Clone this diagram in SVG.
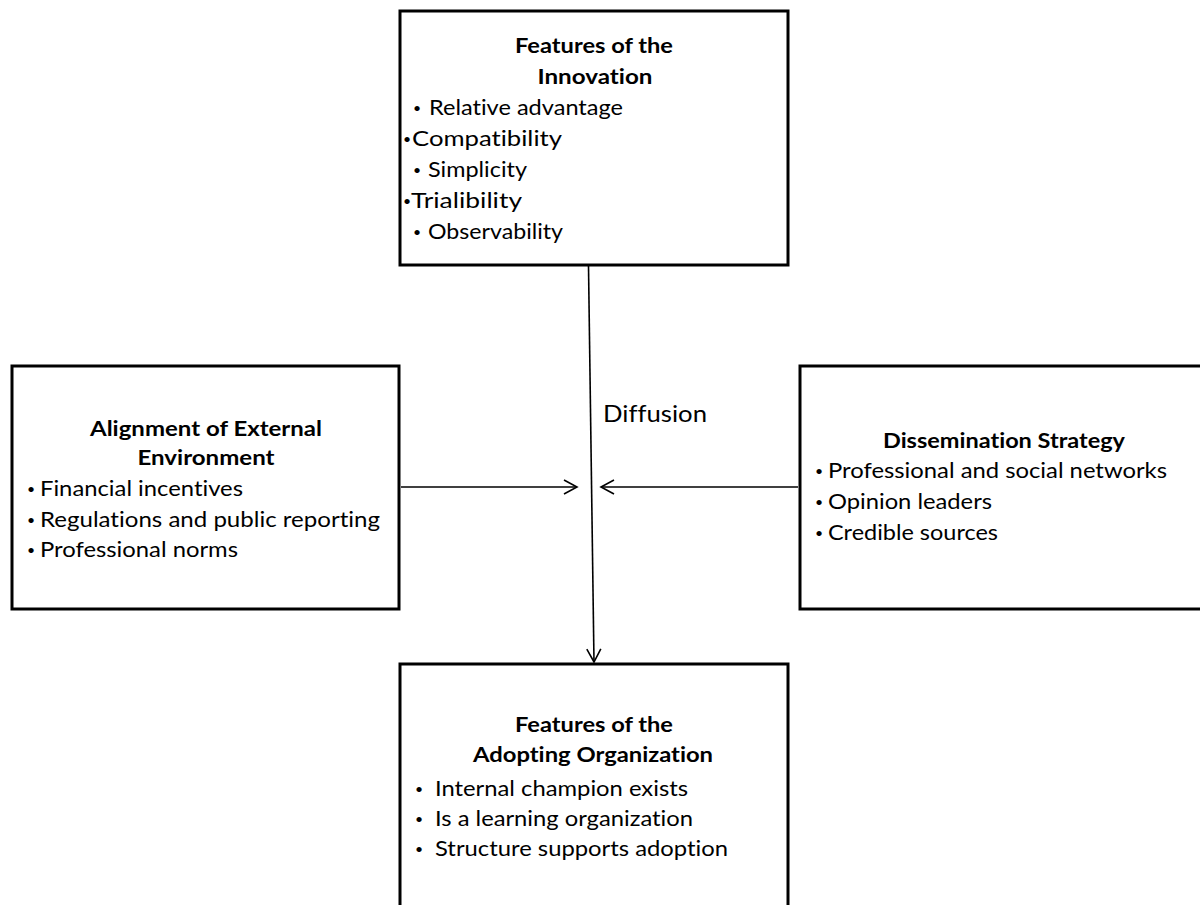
<svg xmlns="http://www.w3.org/2000/svg" width="1200" height="905" viewBox="0 0 1200 905">
<style>
.box{fill:#fff;stroke:#000;stroke-width:3}
text{font-family:Lato,"Liberation Sans",sans-serif;fill:#000;font-size:21px;font-variant-ligatures:none}
.t{font-weight:bold;text-anchor:middle}
.b{text-anchor:middle;font-size:14px}
.conn{stroke:#000;stroke-width:1.6;fill:none}
</style>
<defs>
<marker id="ah" viewBox="0 0 16 16" refX="14" refY="8" markerWidth="16" markerHeight="16" markerUnits="userSpaceOnUse" orient="auto">
<path d="M1,1 L14,8 L1,15" fill="none" stroke="#000" stroke-width="1.6"/>
</marker>
</defs>
<rect width="1200" height="905" fill="#fff"/>
<g id="innovation">
<rect class="box" x="400" y="11" width="388" height="254"/>
<text class="t" x="594" y="53" textLength="158" lengthAdjust="spacingAndGlyphs">Features of the</text>
<text class="t" x="595" y="84" textLength="115" lengthAdjust="spacingAndGlyphs">Innovation</text>
<text class="b" x="417" y="113">•</text><text x="429" y="115" textLength="194" lengthAdjust="spacingAndGlyphs">Relative advantage</text>
<text class="b" x="407" y="144">•</text><text x="412" y="146" textLength="150" lengthAdjust="spacingAndGlyphs">Compatibility</text>
<text class="b" x="417" y="175">•</text><text x="428" y="177" textLength="99" lengthAdjust="spacingAndGlyphs">Simplicity</text>
<text class="b" x="407" y="206">•</text><text x="411" y="208" textLength="111" lengthAdjust="spacingAndGlyphs">Trialibility</text>
<text class="b" x="417" y="237">•</text><text x="428" y="239" textLength="135" lengthAdjust="spacingAndGlyphs">Observability</text>
</g>
<g id="external">
<rect class="box" x="12" y="366" width="387" height="243"/>
<text class="t" x="206" y="436" textLength="232" lengthAdjust="spacingAndGlyphs">Alignment of External</text>
<text class="t" x="206" y="465" textLength="137" lengthAdjust="spacingAndGlyphs">Environment</text>
<text class="b" x="31" y="494">•</text><text x="40" y="496" textLength="203" lengthAdjust="spacingAndGlyphs">Financial incentives</text>
<text class="b" x="31" y="525">•</text><text x="40" y="527" textLength="340" lengthAdjust="spacingAndGlyphs">Regulations and public reporting</text>
<text class="b" x="31" y="555">•</text><text x="40" y="557" textLength="198" lengthAdjust="spacingAndGlyphs">Professional norms</text>
</g>
<g id="dissemination">
<rect class="box" x="800" y="366" width="420" height="243"/>
<text class="t" x="1004" y="448" textLength="242" lengthAdjust="spacingAndGlyphs">Dissemination Strategy</text>
<text class="b" x="819" y="476">•</text><text x="828" y="478" textLength="339" lengthAdjust="spacingAndGlyphs">Professional and social networks</text>
<text class="b" x="819" y="507">•</text><text x="828" y="509" textLength="164" lengthAdjust="spacingAndGlyphs">Opinion leaders</text>
<text class="b" x="819" y="538">•</text><text x="828" y="540" textLength="170" lengthAdjust="spacingAndGlyphs">Credible sources</text>
</g>
<g id="adopting">
<rect class="box" x="400" y="664" width="388" height="260"/>
<text class="t" x="594" y="732" textLength="158" lengthAdjust="spacingAndGlyphs">Features of the</text>
<text class="t" x="593" y="762" textLength="240" lengthAdjust="spacingAndGlyphs">Adopting Organization</text>
<text class="b" x="419" y="794">•</text><text x="435" y="796" textLength="253" lengthAdjust="spacingAndGlyphs">Internal champion exists</text>
<text class="b" x="419" y="824">•</text><text x="435" y="826" textLength="258" lengthAdjust="spacingAndGlyphs">Is a learning organization</text>
<text class="b" x="419" y="854">•</text><text x="435" y="856" textLength="293" lengthAdjust="spacingAndGlyphs">Structure supports adoption</text>
</g>
<g id="connectors">
<line class="conn" x1="588.5" y1="266" x2="594" y2="662" marker-end="url(#ah)"/>
<line class="conn" x1="401" y1="487" x2="577" y2="487" marker-end="url(#ah)"/>
<line class="conn" x1="798" y1="487" x2="601" y2="487" marker-end="url(#ah)"/>
<text x="603" y="422" style="font-size:24px" textLength="104" lengthAdjust="spacingAndGlyphs">Diffusion</text>
</g>
</svg>
